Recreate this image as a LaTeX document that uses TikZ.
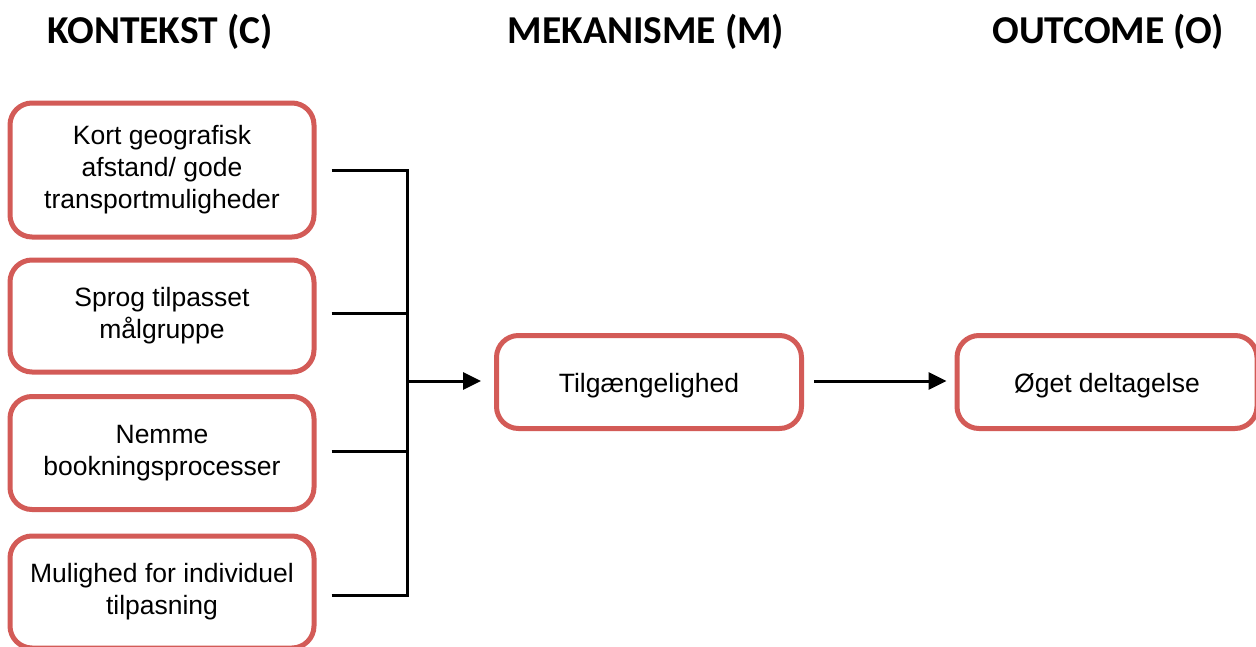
\documentclass[tikz,border=0pt]{standalone}
\usepackage{fontspec}
\setmainfont{Liberation Sans}
\newfontfamily\headfont{Carlito}
\usetikzlibrary{arrows.meta,calc}
\definecolor{boxred}{HTML}{D35B57}
\begin{document}
\begin{tikzpicture}[x=1pt,y=-1pt,
  box/.style={draw=boxred,line width=5pt,rounded corners=22pt,fill=white,
    align=center,inner sep=0pt,font=\fontsize{26.5}{32}\selectfont,
    execute at begin node={\rule{0pt}{25.5pt}}},
  head/.style={anchor=base,font=\headfont\bfseries\fontsize{39.5}{44}\selectfont},
  conn/.style={line width=3pt},
  arr/.style={line width=3pt,-{Triangle[length=18pt,width=17pt]}}]
\useasboundingbox (0,0) rectangle (1256,646);
\node[head] (hc) at (160,43) {KONTEKST (C)};
\node[head] (hm) at (646,43) {MEKANISME (M)};
\node[head] (ho) at (1108,43) {OUTCOME (O)};
\node[box,minimum width=304pt,minimum height=134pt] (b1) at (162,170) {Kort geografisk\\afstand/ gode\\transportmuligheder};
\node[box,minimum width=304pt,minimum height=112pt] (b2) at (162,316) {Sprog tilpasset\\målgruppe};
\node[box,minimum width=304pt,minimum height=113pt] (b3) at (162,453) {Nemme\\bookningsprocesser};
\node[box,minimum width=304pt,minimum height=112pt] (b4) at (162,592) {Mulighed for individuel\\tilpasning};
\node[box,minimum width=305pt,minimum height=93pt] (m) at (649,382) {Tilgængelighed};
\node[box,minimum width=300pt,minimum height=93pt] (o) at (1107,382) {Øget deltagelse};
\coordinate (j) at (407,381);
\draw[conn] ($(b1.east)+(15,0)$) -| (j);
\draw[conn] ($(b2.east)+(15,-3)$) -| (j);
\draw[conn] ($(b3.east)+(15,-2)$) -| (j);
\draw[conn] ($(b4.east)+(15,3)$) -| (j);
\draw[arr] (j) -- ($(m.west)+(-13,-1)$);
\draw[arr] ($(m.east)+(10,-1)$) -- ($(o.west)+(-8,-1)$);
\end{tikzpicture}
\end{document}
